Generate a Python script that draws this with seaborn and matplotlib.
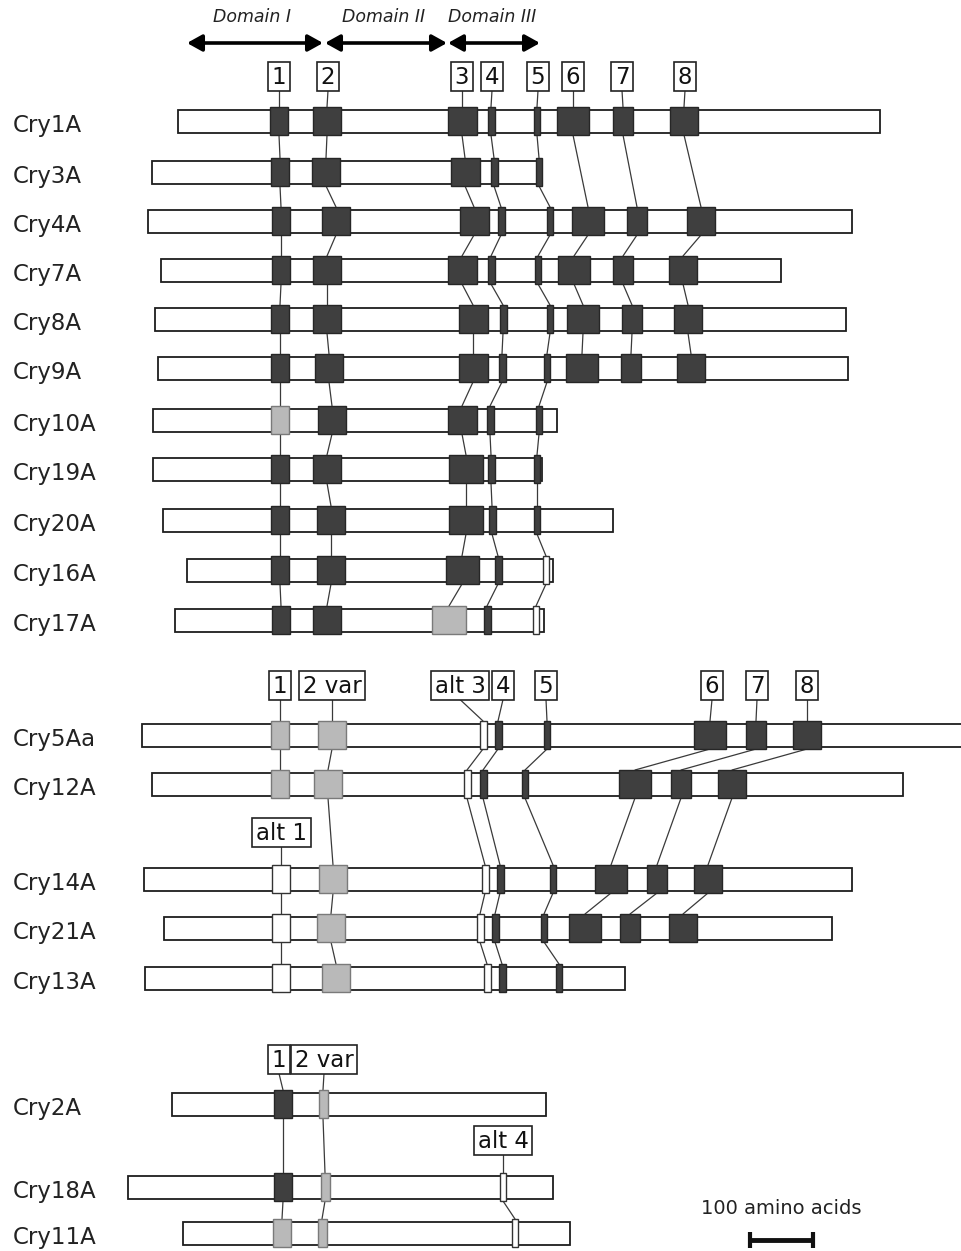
import matplotlib
matplotlib.use("Agg")
import numpy as np
import pandas as pd
import seaborn as sns
import matplotlib.pyplot as plt
from matplotlib.patches import Rectangle, FancyArrowPatch

# ---------------- data ----------------
names = ["Cry1A", "Cry3A", "Cry4A", "Cry7A", "Cry8A", "Cry9A", "Cry10A", "Cry19A",
         "Cry20A", "Cry16A", "Cry17A",
         "Cry5Aa", "Cry12A", "Cry14A", "Cry21A", "Cry13A",
         "Cry2A", "Cry18A", "Cry11A"]
group = [0] * 11 + [1] * 5 + [2] * 3
row_y = [121, 172, 221, 270, 319, 368, 420, 469, 520, 570, 620,
         735, 784, 879, 928, 978,
         1104, 1187, 1233]
bar_start = [178, 152, 148, 161, 155, 158, 153, 153, 163, 187, 175,
             142, 152, 144, 164, 145,
             172, 128, 183]
bar_end = [880, 541, 852, 781, 846, 848, 557, 542, 613, 553, 544,
           985, 903, 852, 832, 625,
           546, 553, 570]

N = None
# conserved block centres per row (None = block absent)
blk1_x = [279, 280, 281, 281, 280, 280, 280, 280, 280, 280, 281, 280, 280, N, N, N, 283, 283, 282]
blk1_t = list("ddddddlddddll...ddl")
alt1_x = [N] * 13 + [281, 281, 281] + [N] * 3
alt1_t = list(".............www...")
blk2_x = [327, 326, 336, 327, 327, 329, 332, 327, 331, 331, 327, 332, 328, 333, 331, 336, 323, 325, 322]
blk2_t = list("ddddddddddd" + "lllll" + "lll")
blk2_w = [28] * 16 + [9] * 3
blk3_x = [462, 465, 474, 462, 473, 473, 462, 466, 466, 462, 449] + [N] * 8
blk3_t = list("ddddddddddl........")
blk3_w = [29, 29, 29, 29, 29, 29, 29, 34, 34, 33, 34] + [0] * 8
alt3_x = [N] * 11 + [483, 467, 485, 480, 487] + [N] * 3
alt3_t = list("...........wwwww...")
blk4_x = [491, 494, 501, 491, 503, 502, 490, 491, 492, 498, 487, 498, 483, 500, 495, 502, N, N, N]
blk4_t = list("dddddddddddddddd...")
blk5_x = [537, 539, 550, 538, 550, 547, 539, 537, 537, 546, 536, 547, 525, 553, 544, 559, N, N, N]
blk5_t = list("dddddddddwwddddd...")
blk6_x = [573, N, 588, 574, 583, 582, N, N, N, N, N, 710, 635, 611, 585, N, N, N, N]
blk6_t = list("d.dddd.....dddd....")
blk7_x = [623, N, 637, 623, 632, 631, N, N, N, N, N, 756, 681, 657, 630, N, N, N, N]
blk7_t = list("d.dddd.....dddd....")
blk8_x = [684, N, 701, 683, 688, 691, N, N, N, N, N, 807, 732, 708, 683, N, N, N, N]
blk8_t = list("d.dddd.....dddd....")
alt4_x = [N] * 17 + [503, 515]
alt4_t = list(".................ww")

blocks = {
    "1": (blk1_x, blk1_t, [18] * 19),
    "alt 1": (alt1_x, alt1_t, [18] * 19),
    "2": (blk2_x, blk2_t, blk2_w),
    "3": (blk3_x, blk3_t, blk3_w),
    "alt 3": (alt3_x, alt3_t, [7] * 19),
    "4": (blk4_x, blk4_t, [7] * 19),
    "5": (blk5_x, blk5_t, [6] * 19),
    "6": (blk6_x, blk6_t, [32] * 19),
    "7": (blk7_x, blk7_t, [20] * 19),
    "8": (blk8_x, blk8_t, [28] * 19),
    "alt 4": (alt4_x, alt4_t, [6] * 19),
}

# callout labels
callout_text = ["1", "2", "3", "4", "5", "6", "7", "8",
                "1", "2 var", "alt 3", "4", "5", "6", "7", "8",
                "alt 1",
                "1", "2 var",
                "alt 4"]
callout_x = [279, 328, 462, 492, 538, 573, 622, 685,
             280, 332, 460, 503, 546, 712, 757, 807,
             281,
             279, 324,
             503]
callout_y = [76] * 8 + [685] * 8 + [832] + [1059] * 2 + [1140]
callout_block = ["1", "2", "3", "4", "5", "6", "7", "8",
                 "1", "2", "alt 3", "4", "5", "6", "7", "8",
                 "alt 1",
                 "1", "2",
                 "alt 4"]
callout_row = [0] * 8 + [11] * 8 + [13] + [16] * 2 + [17]

domain_names = ["Domain I", "Domain II", "Domain III"]
domain_from = [187, 325, 448]
domain_to = [323, 447, 540]

scale_aa = 100
px_per_aa = 0.63

# ---------------- style ----------------
sns.set_theme(style="white")
plt.rcParams['font.family'] = ['DejaVu Sans']

BAR_H = 23
BLK_H = 28
BOX_H = 29
face = {"d": "#3f3f3f", "l": "#b9b9b9", "w": "#ffffff"}
edge = {"d": "#262626", "l": "#7a7a7a", "w": "#333333"}
LINE_C = "#3a3a3a"

fig = plt.figure(figsize=(9.61, 12.51), dpi=100)
ax = fig.add_axes([0, 0, 1, 1])
ax.set_xlim(0, 961)
ax.set_ylim(1251, 0)
ax.axis("off")

df = pd.DataFrame({"name": names, "y": row_y, "start": bar_start, "end": bar_end, "group": group})

# protein bars
ax.barh(df["y"], df["end"] - df["start"], left=df["start"], height=BAR_H,
        color="white", edgecolor="#1e1e1e", linewidth=1.3, zorder=2)

# protein names
fs_name = 16.5
em = fs_name * 100 / 72
for nm, y in zip(names, row_y):
    ax.text(13, y + 3 + 0.365 * em, nm, fontsize=fs_name, color="#222222",
            ha="left", va="baseline")

# blocks and connecting lines
for key, (xs, ts, ws) in blocks.items():
    rows = [i for i, x in enumerate(xs) if x is not None]
    bx = np.array([xs[i] for i in rows], dtype=float)
    bw = np.array([ws[i] for i in rows], dtype=float)
    by = np.array([row_y[i] for i in rows], dtype=float)
    bt = [ts[i] for i in rows]
    ax.barh(by, bw, left=bx - bw / 2, height=BLK_H,
            color=[face[t] for t in bt], edgecolor=[edge[t] for t in bt],
            linewidth=1.0, zorder=3)
    for a, b in zip(rows[:-1], rows[1:]):
        if group[a] != group[b]:
            continue
        ax.plot([xs[a], xs[b]], [row_y[a] + BLK_H / 2, row_y[b] - BLK_H / 2],
                color=LINE_C, lw=0.9, zorder=1)

# callout boxes
fs_lab = 16.5
em_l = fs_lab * 100 / 72
texts = []
for t, x, y in zip(callout_text, callout_x, callout_y):
    tx = ax.text(x, y + 0.365 * em_l, t, fontsize=fs_lab, color="#111111",
                 ha="center", va="baseline", zorder=6)
    texts.append(tx)
fig.canvas.draw()
renderer = fig.canvas.get_renderer()
inv = ax.transData.inverted()
for tx, x, y, blk, r in zip(texts, callout_x, callout_y, callout_block, callout_row):
    bb = tx.get_window_extent(renderer)
    (x0, _), (x1, _) = inv.transform([[bb.x0, bb.y0], [bb.x1, bb.y1]])
    w = (x1 - x0) + 8
    ax.add_patch(Rectangle((x - w / 2, y - BOX_H / 2), w, BOX_H, facecolor="white",
                           edgecolor="#222222", lw=1.2, zorder=5))
    bxs = blocks[blk][0]
    ax.plot([x, bxs[r]], [y + BOX_H / 2, row_y[r] - BLK_H / 2],
            color=LINE_C, lw=0.9, zorder=1)

# domain arrows
for nm, a, b in zip(domain_names, domain_from, domain_to):
    arr = FancyArrowPatch((a, 43), (b, 43),
                          arrowstyle="<|-|>,head_length=0.45,head_width=0.25",
                          mutation_scale=20, lw=2.6, color="black",
                          shrinkA=0, shrinkB=0, zorder=4)
    ax.add_patch(arr)
    ax.text((a + b) / 2 - 3 if nm == "Domain I" else (a + b) / 2 - 2, 17, nm,
            fontsize=12.5, style="italic", color="#222222", ha="center", va="center")

# scale bar
sb_x0 = 750
sb_len = scale_aa * px_per_aa
ax.text(sb_x0 + sb_len / 2, 1209, f"{scale_aa} amino acids", fontsize=14,
        color="#222222", ha="center", va="center")
ax.plot([sb_x0, sb_x0 + sb_len], [1240, 1240], color="#111111", lw=3.5,
        marker="|", markersize=12, mew=3, solid_capstyle="butt")

fig.savefig("out.png", dpi=100)
